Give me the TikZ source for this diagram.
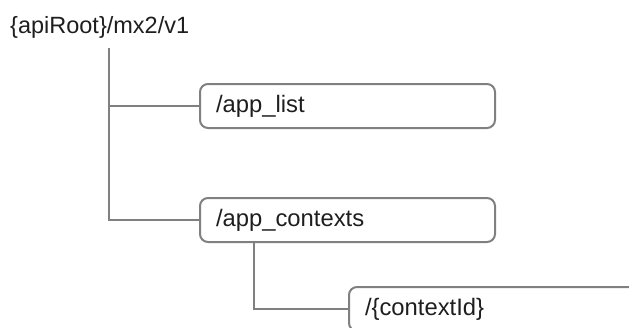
\documentclass[tikz,border=0pt]{standalone}
\usepackage{fontspec}
\setmainfont{Liberation Sans}
\usetikzlibrary{positioning}
\definecolor{linegray}{RGB}{128,128,128}
\definecolor{textdark}{RGB}{30,30,30}

\tikzset{
    resbox/.style={draw=linegray, line width=2pt, rounded corners=8pt,
        minimum width=295pt, minimum height=44pt, text width=263pt,
        inner xsep=16pt, inner ysep=0pt, align=left, text=textdark,
        font=\fontsize{23.8}{28}\selectfont},
    tree/.style={draw=linegray, line width=2pt},
}

\begin{document}
\begin{tikzpicture}[x=1pt, y=-1pt]
            \useasboundingbox (0,0) rectangle (629,327);
            \clip (0,0) rectangle (629,327);
            \node [anchor=base west, inner sep=0pt, text=textdark,
                   font=\fontsize{23.5}{28}\selectfont] (root) at (10,33) {\{apiRoot\}/mx2/v1};
            \coordinate (trunk) at (109,48);
            \node [resbox, anchor=north west] (applist) at (199,83) {/app\_list};
            \node [resbox, below = 68pt of applist.south west, anchor=north west] (appctx) {/app\_contexts};
            \node [resbox, anchor=north west] (ctxid) at (348,286) {/\{contextId\}};
            \coordinate [right = 55pt of appctx.south west] (branch);
            % connectors
            \draw [tree] (trunk) |- (applist.west);
            \draw [tree] (trunk) |- (appctx.west);
            \draw [tree] (branch) |- (ctxid.west);
        \end{tikzpicture}
\end{document}
